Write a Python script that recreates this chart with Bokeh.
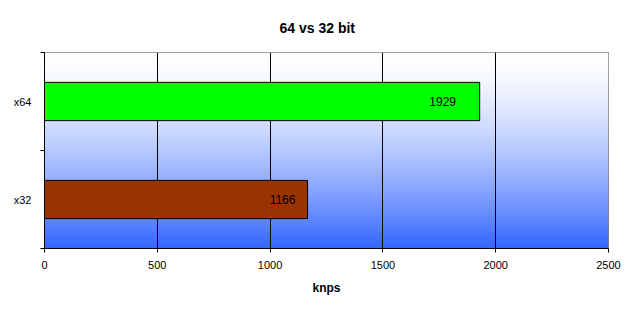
import numpy as np
from bokeh.plotting import figure
from bokeh.models import ColumnDataSource, FixedTicker
from bokeh.core.properties import value
from bokeh.embed import file_html
from bokeh.resources import INLINE

# data
categories = ["x32", "x64"]
knps = [1166, 1929]
bar_colors = ["#993300", "#00FF00"]
x_ticks = [0, 500, 1000, 1500, 2000, 2500]
title_text = "64 vs 32 bit"

FONT = "Liberation Sans"
y_pos = [i + 0.5 for i in range(len(categories))]

src = ColumnDataSource(dict(y=y_pos, v=knps, c=bar_colors,
                            lbl=[str(v) for v in knps], off=[-25, -37]))

p = figure(width=634, height=309, output_backend="svg", toolbar_location=None,
           x_range=(0, 2500), y_range=(0, len(categories)),
           min_border_left=44, min_border_right=26, min_border_top=52,
           min_border_bottom=61)
p.background_fill_color = "white"
p.border_fill_color = "white"
p.outline_line_color = "#808080"

p.title.text = title_text
p.title.align = "left"
p.title.text_font = FONT
p.title.text_font_size = "14px"
p.title.text_font_style = "bold"
p.title.text_color = "black"
p.title.offset = 235
p.title.standoff = 33

# gradient background of the plot area
N = 196
t = np.linspace(0, 1, N)  # 0 bottom, 1 top
w = (1 - t) ** 1.5
r = (255 - (255 - 51) * w).astype(np.uint32)
g = (255 - (255 - 102) * w).astype(np.uint32)
b = np.full(N, 255, dtype=np.uint32)
img = np.zeros((N, 1), dtype=np.uint32)
view = img.view(dtype=np.uint8).reshape((N, 1, 4))
view[:, 0, 0] = r
view[:, 0, 1] = g
view[:, 0, 2] = b
view[:, 0, 3] = 255
p.image_rgba(image=[img], x=0, y=0, dw=2500, dh=len(categories), level="image")

p.hbar(y="y", left=0, right="v", height=0.39, fill_color="c", line_color="black",
       line_width=1, source=src)
p.text(x="v", y="y", text="lbl", x_offset="off", text_align="center",
       text_baseline="middle", text_font=value(FONT), text_font_size="12px",
       text_color="black", source=src)

# grid
p.ygrid.visible = False
p.xgrid.ticker = FixedTicker(ticks=x_ticks)
p.xgrid.grid_line_color = "black"
p.xgrid.grid_line_alpha = 1

# x axis
xa = p.xaxis[0]
xa.ticker = FixedTicker(ticks=x_ticks)
xa.axis_label = "knps"
xa.axis_label_text_font = FONT
xa.axis_label_text_font_style = "bold"
xa.axis_label_text_font_size = "12px"
xa.axis_label_text_color = "black"
xa.axis_label_standoff = 9
xa.major_label_text_font = FONT
xa.major_label_text_font_size = "11px"
xa.major_label_text_color = "black"
xa.major_label_standoff = 8
xa.major_tick_in = 0
xa.major_tick_out = 4
xa.minor_tick_line_color = None
xa.axis_line_color = "black"
xa.major_tick_line_color = "black"

# y axis
ya = p.yaxis[0]
ya.ticker = FixedTicker(ticks=y_pos, minor_ticks=list(range(len(categories) + 1)))
ya.major_label_overrides = {yv: c for yv, c in zip(y_pos, categories)}
ya.major_tick_in = 0
ya.major_tick_out = 0
ya.minor_tick_in = 0
ya.minor_tick_out = 4
ya.minor_tick_line_color = "black"
ya.major_label_standoff = 9
ya.major_label_text_font = FONT
ya.major_label_text_font_size = "11px"
ya.major_label_text_color = "black"
ya.axis_line_color = "black"

open("out.html", "w").write(file_html(p, INLINE))
